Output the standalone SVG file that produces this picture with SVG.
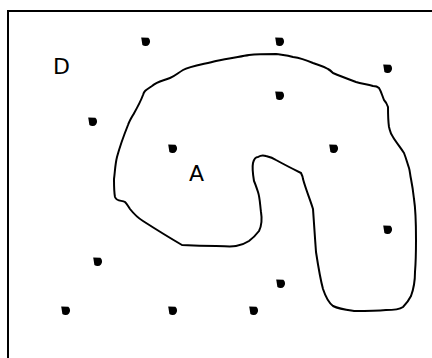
<svg xmlns="http://www.w3.org/2000/svg" width="432" height="358" viewBox="0 0 432 358">
<style>
.lbl{font-family:"DejaVu Sans",sans-serif;font-size:22px;fill:#000}
.dot{fill:#000}
.line{fill:none;stroke:#000;stroke-width:2}
</style>
<defs>
<path id="drop" d="M-4.8,-4.6 L2.4,-4.2 A4.2,4.2 0 1 1 -3.6,3 Z"/>
</defs>
<rect class="line" x="8" y="11" width="440" height="360"/>
<g id="region-A">
<path class="line" d="M216,61 C205,64 190,66 183,70 C178,73 175,76 170,78 C163,81 158,81 152,86 C146,90 144,91 143,95 C140,103 137,108 133,115 C130,120 129,122 128,125 C124,135 120,146 117,157 C115,165 115,172 114,179 C114,185 114,192 115,197 C117,202 122,200 125,202 C127,204 128,206 130,209 C134,214 138,218 143,221 C157,230 170,238 182,245 C200,246 210,246 216,246 C225,246 230,247 236,246 C242,245 246,243 249,241 C253,238 256,235 259,231 C262,225 262,218 261,212 C260,205 260,198 258,192 C256,186 255,183 254,181 C253,175 252,168 253,163 C254,159 255,157 258,157 C261,155 263,155 266,156 C270,157 273,158 276,160 C285,165 293,169 301,173 C302,175 303,177 303,179 C306,190 310,199 313,209 C314,225 315,238 316,252 C318,265 320,278 323,289 C326,298 329,303 333,306 C339,309 347,310 354,311 C364,311 376,311 386,310 C395,310 400,309 403,307 C407,303 409,300 411,296 C414,288 415,280 415,272 C416,260 416,250 416,239 C416,225 416,212 414,199 C413,190 412,184 411,179 C410,175 410,171 409,168 C407,162 406,158 404,153 C400,147 396,142 393,137 C390,133 390,130 389,127 C388,120 388,113 388,107 C387,104 386,102 384,100 C382,95 381,91 379,88 C377,86 375,86 373,86 C367,84 362,84 356,82 C348,79 340,76 333,73 C331,71 330,70 328,69 C323,66 318,65 313,63 C306,60 300,58 293,57 C287,55 282,55 276,54 C268,54 258,54 249,55 C238,57 226,59 216,61 Z"/>
<text class="lbl" x="189" y="181">A</text>
</g>
<g id="region-D">
<text class="lbl" x="53" y="74">D</text>
</g>
<g id="points">
<use href="#drop" class="dot" x="146" y="42"/>
<use href="#drop" class="dot" x="93" y="122"/>
<use href="#drop" class="dot" x="173" y="149"/>
<use href="#drop" class="dot" x="280" y="42"/>
<use href="#drop" class="dot" x="388" y="69"/>
<use href="#drop" class="dot" x="280" y="96"/>
<use href="#drop" class="dot" x="334" y="149"/>
<use href="#drop" class="dot" x="98" y="262"/>
<use href="#drop" class="dot" x="66" y="311"/>
<use href="#drop" class="dot" x="173" y="311"/>
<use href="#drop" class="dot" x="388" y="230"/>
<use href="#drop" class="dot" x="281" y="284"/>
<use href="#drop" class="dot" x="254" y="311"/>
</g>
</svg>
